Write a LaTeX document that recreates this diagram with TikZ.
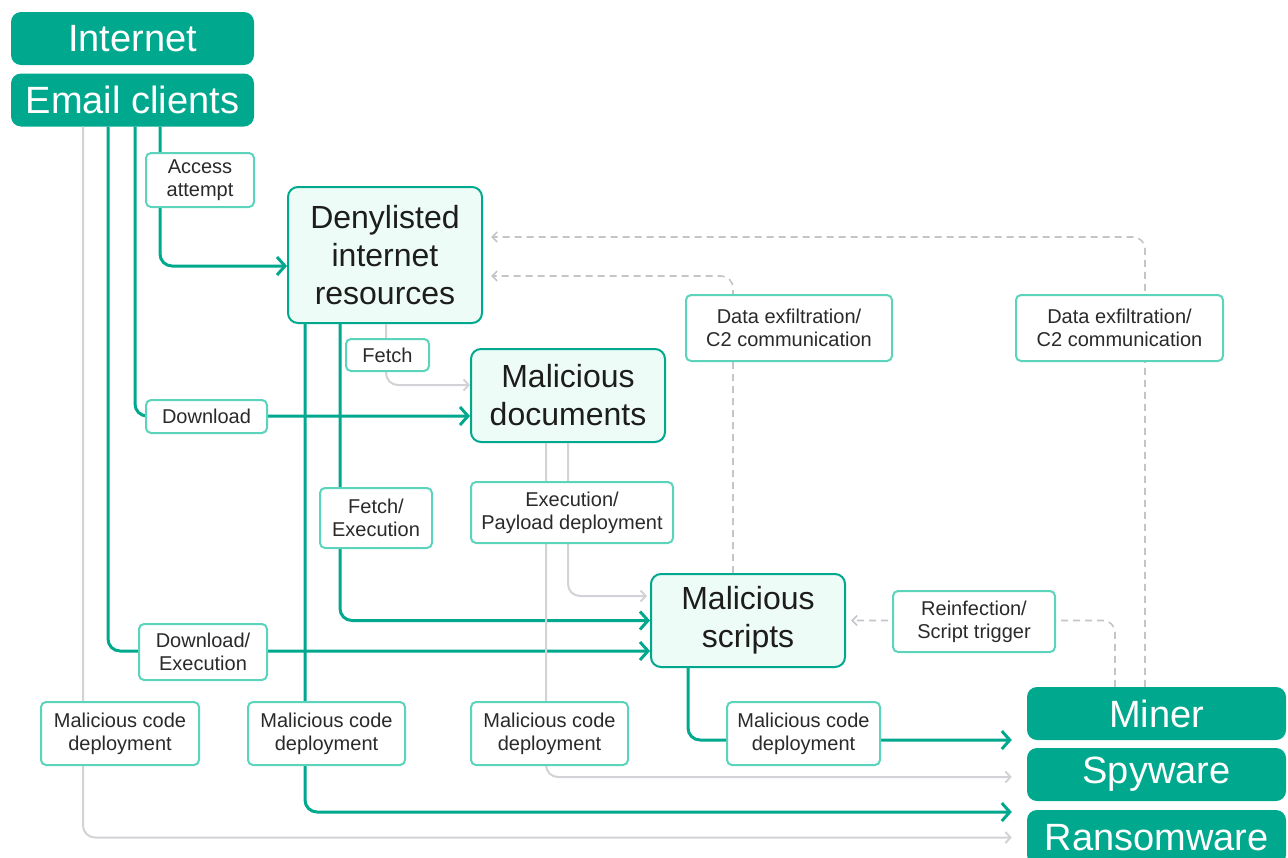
\documentclass[tikz,border=0pt]{standalone}
\usepackage{fontspec}
\setmainfont{Liberation Sans}
\usetikzlibrary{arrows.meta,calc}
\definecolor{kteal}{HTML}{00A88E}
\definecolor{klight}{HTML}{EEFCF8}
\definecolor{klabel}{HTML}{5CD4BC}
\definecolor{kgray}{HTML}{D2D2D7}
\definecolor{kdash}{HTML}{C4C4C9}
\definecolor{ktext}{HTML}{1D1D1B}
\definecolor{klbltext}{HTML}{2A2A2A}
\begin{document}
\begin{tikzpicture}[x=1pt,y=-1pt,
  solidbox/.style={fill=kteal, rounded corners=10pt, text=white, minimum width=243pt, minimum height=53pt, inner sep=0pt, font=\fontsize{38}{44}\selectfont},
  lightbox/.style={fill=klight, draw=kteal, line width=2pt, rounded corners=10pt, text=ktext, inner sep=0pt, align=center, font=\fontsize{32}{38}\selectfont},
  lbl/.style={fill=white, draw=klabel, line width=2pt, rounded corners=5pt, text=klbltext, inner sep=0pt, align=center, font=\fontsize{20}{23}\selectfont},
  tealline/.style={draw=kteal, line width=3pt, rounded corners=12pt, -{Straight Barb[length=8pt,width=18pt]}},
  grayline/.style={draw=kgray, line width=2pt, rounded corners=12pt, -{Straight Barb[length=5pt,width=11pt]}},
  dashline/.style={draw=kdash, line width=1.6pt, dash pattern=on 7pt off 5pt, rounded corners=12pt, -{Straight Barb[length=5pt,width=10pt]}},
]
\useasboundingbox (0,0) rectangle (1288,857);
% main nodes
\node[solidbox] (internet) at (132.5,38.5) {Internet};
\node[solidbox] (email) at (132.5,100) {Email clients};
\node[lightbox, minimum width=194pt, minimum height=136pt] (deny) at (385,255) {Denylisted\\internet\\resources};
\node[lightbox, minimum width=194pt, minimum height=93pt] (docs) at (568,395.5) {Malicious\\documents};
\node[lightbox, minimum width=194pt, minimum height=93pt] (scripts) at (748,620.5) {Malicious\\scripts};
\node[solidbox, minimum width=259pt] (miner) at (1156.5,713.5) {Miner};
\node[solidbox, minimum width=259pt] (spy) at (1156.5,774.5) {Spyware};
\node[solidbox, minimum width=259pt, minimum height=55pt] (ransom) at (1156.5,837.5) {Ransomware};
% connectors
\draw[grayline, shorten >=15pt] ([xshift=-49.5pt]email.south) |- (ransom.west);
\draw[tealline] ([xshift=-24.5pt]email.south) |- ([yshift=-30.5pt]scripts.west);
\draw[tealline] ([xshift=2.5pt]email.south) |- ([yshift=-20.5pt]docs.west);
\draw[tealline] ([xshift=27.5pt]email.south) |- ([yshift=-11pt]deny.west);
\draw[tealline, shorten >=15pt] ([xshift=-80pt]deny.south) |- ([yshift=25.5pt]ransom.west);
\draw[tealline] ([xshift=-45pt]deny.south) |- (scripts.west);
\draw[grayline] ([xshift=1pt]deny.south) |- ([yshift=10.5pt]docs.west);
\draw[grayline, shorten >=15pt] ([xshift=-22pt]docs.south) |- ([yshift=-2.5pt]spy.west);
\draw[grayline, shorten >=3pt] (docs.south) |- ([yshift=24.5pt]scripts.west);
\draw[tealline, shorten >=15pt] ([xshift=-60pt]scripts.south) |- ([yshift=-26.5pt]miner.west);
\draw[dashline, shorten >=8pt] ([xshift=-11.5pt]miner.north) |- ([yshift=18pt]deny.east);
\draw[dashline, shorten >=8pt] ([xshift=-15pt]scripts.north) |- ([yshift=-21pt]deny.east);
\draw[dashline, shorten >=5pt] ([xshift=-41.5pt]miner.north) |- (scripts.east);
% labels
\node[lbl, minimum width=108pt, minimum height=54pt] (lacc) at (200,180) {Access\\attempt};
\node[lbl, minimum width=83pt, minimum height=32pt] (lfetch) at (387.5,355) {Fetch};
\node[lbl, minimum width=121pt, minimum height=33pt] (ldl) at (206.5,416.5) {Download};
\node[lbl, minimum width=112pt, minimum height=60pt] (lfex) at (376,518) {Fetch/\\Execution};
\node[lbl, minimum width=202pt, minimum height=61pt] (lexp) at (572,512.5) {Execution/\\Payload deployment};
\node[lbl, minimum width=206pt, minimum height=66pt] (lexf1) at (789,328) {Data exfiltration/\\C2 communication};
\node[lbl, minimum width=207pt, minimum height=66pt] (lexf2) at (1119.5,328) {Data exfiltration/\\C2 communication};
\node[lbl, minimum width=162pt, minimum height=61pt] (lrein) at (974,621.5) {Reinfection/\\Script trigger};
\node[lbl, minimum width=128pt, minimum height=56pt] (ldlex) at (203,652) {Download/\\Execution};
\node[lbl, minimum width=158pt, minimum height=63pt] (lmc1) at (120,733.5) {Malicious code\\deployment};
\node[lbl, minimum width=157pt, minimum height=63pt] (lmc2) at (326.5,733.5) {Malicious code\\deployment};
\node[lbl, minimum width=157pt, minimum height=63pt] (lmc3) at (549.5,733.5) {Malicious code\\deployment};
\node[lbl, minimum width=153pt, minimum height=63pt] (lmc4) at (803.5,733.5) {Malicious code\\deployment};
\end{tikzpicture}
\end{document}
